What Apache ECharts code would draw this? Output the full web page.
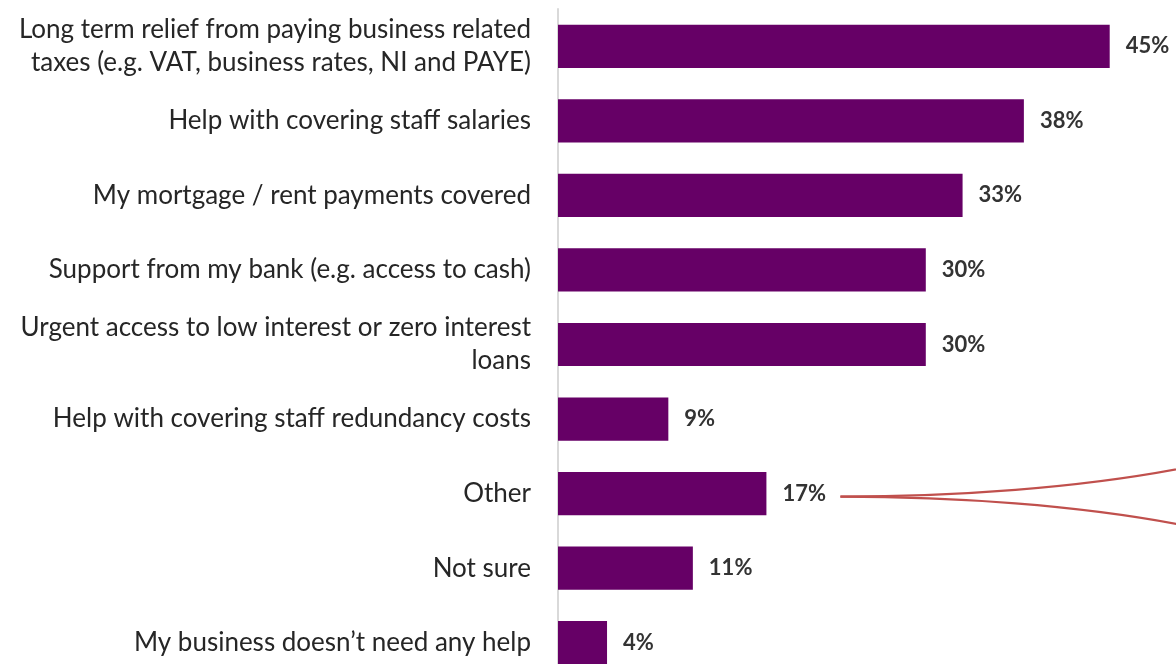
<!DOCTYPE html>
<html>
<head>
<meta charset="utf-8">
<script src="https://cdn.jsdelivr.net/npm/echarts@6/dist/echarts.min.js"></script>
<style>
  html, body { margin: 0; padding: 0; background: #ffffff; }
  #chart { width: 1176px; height: 664px; }
</style>
</head>
<body>
<div id="chart"></div>
<script>
// Kinds of support businesses said they need, top to bottom
const categories = [
  'Long term relief from paying business related\ntaxes (e.g. VAT, business rates, NI and PAYE)',
  'Help with covering staff salaries',
  'My mortgage / rent payments covered',
  'Support from my bank (e.g. access to cash)',
  'Urgent access to low interest or zero interest\nloans',
  'Help with covering staff redundancy costs',
  'Other',
  'Not sure',
  'My business doesn\u2019t need any help'
];
// Share of respondents (%)
const shares = [45, 38, 33, 30, 30, 9, 17, 11, 4];
// Row whose label gets the red callout bracket
const calloutCategory = 'Other';

const chart = echarts.init(document.getElementById('chart'), null, { renderer: 'canvas' });

chart.setOption({
  animation: false,
  backgroundColor: '#ffffff',
  grid: { left: 558, top: 9, width: 613, height: 671, outerBoundsMode: 'none', containLabel: false },
  xAxis: {
    type: 'value',
    min: 0,
    max: 50,
    show: false
  },
  yAxis: {
    type: 'category',
    inverse: true,
    data: categories,
    axisLine: { show: true, lineStyle: { color: '#d9d9d9', width: 2 } },
    axisTick: { show: false },
    axisLabel: {
      margin: 27,
      color: '#262626',
      fontFamily: 'Lato',
      fontSize: 26,
      lineHeight: 33,
      align: 'right'
    }
  },
  series: [{
    type: 'bar',
    data: shares,
    barCategoryGap: '42%',
    itemStyle: { color: '#660066' },
    label: {
      show: true,
      position: 'right',
      distance: 16,
      formatter: '{c}%',
      color: '#333333',
      fontFamily: 'Lato',
      fontWeight: 'bold',
      fontSize: 22
    }
  }]
});

// Red bracket opening out to the right from the "Other" value label
const idx = categories.indexOf(calloutCategory);
const anchor = chart.convertToPixel({ gridIndex: 0 }, [shares[idx], idx]);
const x0 = anchor[0] + 74;
const y0 = anchor[1] + 3;
const curveStyle = { stroke: '#c0504d', lineWidth: 2.2, fill: 'none' };
chart.setOption({
  graphic: [
    {
      type: 'bezierCurve',
      shape: { x1: x0, y1: y0, cpx1: x0 + 110, cpy1: y0, cpx2: x0 + 240, cpy2: y0 - 8, x2: x0 + 350, y2: y0 - 30 },
      style: curveStyle,
      silent: true
    },
    {
      type: 'bezierCurve',
      shape: { x1: x0, y1: y0, cpx1: x0 + 110, cpy1: y0, cpx2: x0 + 240, cpy2: y0 + 8, x2: x0 + 350, y2: y0 + 30 },
      style: curveStyle,
      silent: true
    }
  ]
});
</script>
</body>
</html>
